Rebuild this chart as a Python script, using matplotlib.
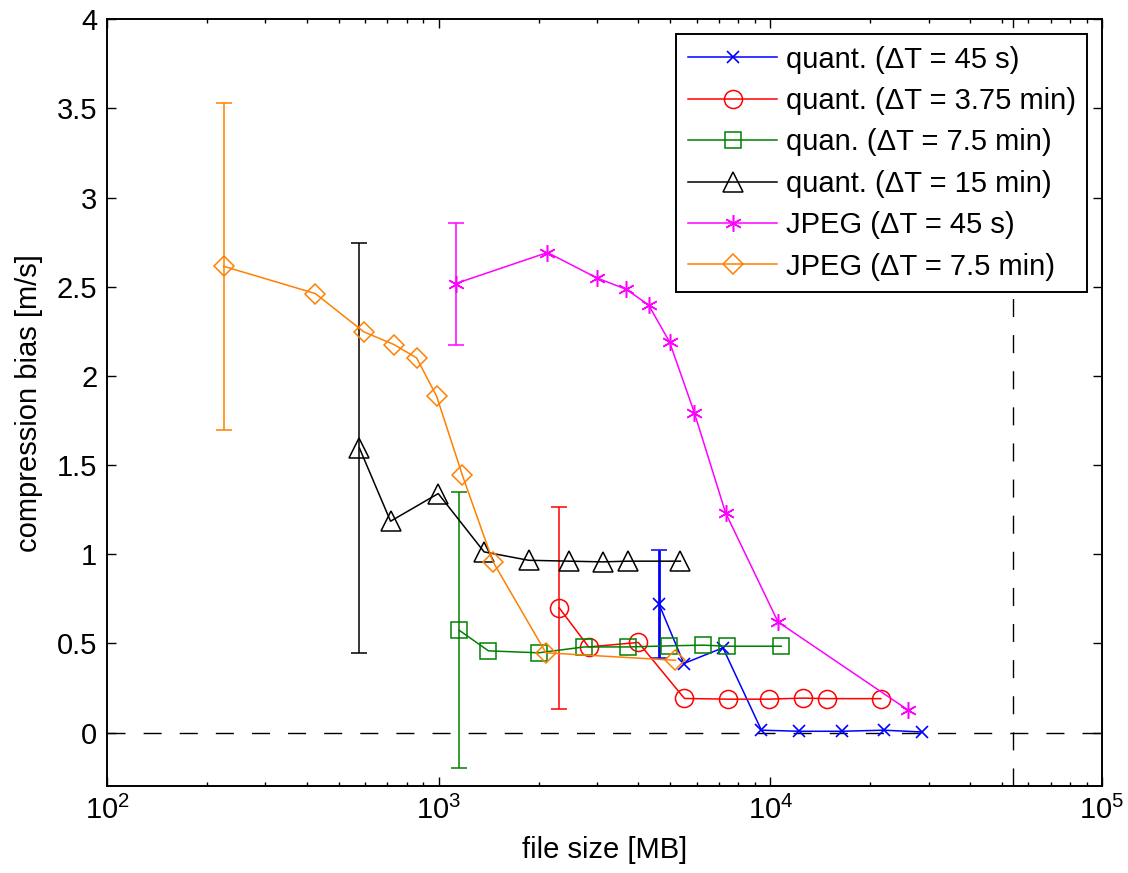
import matplotlib
matplotlib.use("Agg")
import matplotlib.pyplot as plt
import numpy as np

plt.rcParams['font.family'] = ['Liberation Sans', 'DejaVu Sans']
plt.rcParams['mathtext.fontset'] = 'custom'
plt.rcParams['mathtext.rm'] = 'Liberation Sans'
plt.rcParams['mathtext.it'] = 'Liberation Sans'

# ---- data ----
labels = ["quant. (\u0394T = 45 s)", "quant. (\u0394T = 3.75 min)", "quan. (\u0394T = 7.5 min)",
          "quant. (\u0394T = 15 min)", "JPEG (\u0394T = 45 s)", "JPEG (\u0394T = 7.5 min)"]

q45_x = [4610, 5485, 7197, 9400, 12180, 16390, 21980, 28710]
q45_y = [0.723, 0.387, 0.475, 0.013, 0.007, 0.007, 0.013, 0.003]
q45_err = [0.418, 1.026]

q375_x = [2309, 2833, 4000, 5508, 7448, 9885, 12560, 14830, 21530]
q375_y = [0.699, 0.48, 0.505, 0.191, 0.187, 0.187, 0.193, 0.19, 0.19]
q375_err = [0.131, 1.265]

q75_x = [1152, 1413, 2000, 2748, 3731, 4945, 6266, 7415, 10790]
q75_y = [0.574, 0.458, 0.447, 0.48, 0.48, 0.486, 0.49, 0.484, 0.484]
q75_err = [-0.198, 1.349]

q15_x = [577, 716, 997, 1371, 1866, 2466, 3123, 3716, 5356]
q15_y = [1.595, 1.185, 1.34, 1.013, 0.966, 0.961, 0.957, 0.961, 0.961]
q15_err = [0.445, 2.746]

j45_x = [1126, 2128, 2995, 3683, 4298, 4966, 5902, 7330, 10550, 26060]
j45_y = [2.518, 2.692, 2.55, 2.485, 2.397, 2.191, 1.793, 1.232, 0.620, 0.125]
j45_err = [2.172, 2.855]

j75_x = [224.6, 424.6, 595, 733, 858, 986, 1179, 1459, 2105, 5176]
j75_y = [2.615, 2.462, 2.247, 2.176, 2.101, 1.886, 1.443, 0.957, 0.447, 0.405]
j75_err = [1.697, 3.528]

vline_x = 5.4e4

series = [
    (q45_x, q45_y, q45_err, '#0000ff', 'x', 9, labels[0]),
    (q375_x, q375_y, q375_err, '#ff0000', 'o', 13, labels[1]),
    (q75_x, q75_y, q75_err, '#008000', 's', 11, labels[2]),
    (q15_x, q15_y, q15_err, '#000000', '^', 14, labels[3]),
    (j45_x, j45_y, j45_err, '#ff00ff', '*', 13, labels[4]),
    (j75_x, j75_y, j75_err, '#ff8000', 'D', 10, labels[5]),
]

fig = plt.figure(figsize=(11.28, 8.73), dpi=100)
ax = fig.add_axes([107/1128, 1-786/873, (1102-107)/1128, (786-19.3)/873])

ax.axhline(0, color='k', lw=1.0, dashes=(13, 13), zorder=1)
ax.axvline(vline_x, color='k', lw=1.0, dashes=(13, 13), zorder=1)

for xs, ys, err, c, m, ms, lab in series:
    lw_eb = 2.0 if c == '#0000ff' else 1.1
    ax.errorbar([xs[0]], [ys[0]], yerr=[[ys[0]-err[0]], [err[1]-ys[0]]], fmt='none',
                ecolor=c, elinewidth=lw_eb, capsize=6, capthick=1.1, zorder=2)
    mkw = dict(marker=m, markersize=ms, markerfacecolor='none', markeredgecolor=c,
               markeredgewidth=1.1)
    if m == '*':
        mkw['marker'] = (6, 2, 0)
        mkw['markersize'] = 12
    if m == 'x':
        mkw['markeredgewidth'] = 1.2
    ax.plot(xs, ys, color=c, lw=1.1, label=lab, zorder=3, **mkw)

ax.set_xscale('log')
ax.set_xlim(100, 1e5)
ax.set_ylim(-0.3, 4)
ax.set_yticks(np.arange(0, 4.01, 0.5))
ax.set_yticklabels(['0', '0.5', '1', '1.5', '2', '2.5', '3', '3.5', '4'])

fs = 21
ax.tick_params(which='both', direction='in', top=True, right=True, labelsize=fs, width=1.0)
ax.tick_params(which='major', length=6.5, pad=7)
ax.tick_params(which='minor', length=3)
for s in ax.spines.values():
    s.set_linewidth(1.4)

ax.set_xlabel('file size [MB]', fontsize=fs, labelpad=8)
ax.set_ylabel('compression bias [m/s]', fontsize=fs, labelpad=10)

leg = ax.legend(loc='upper right', fontsize=fs, handlelength=3.05, borderaxespad=0.5,
                labelspacing=0.46, handletextpad=0.3, borderpad=0.4, fancybox=False,
                framealpha=1, edgecolor='k')
leg.get_frame().set_linewidth(1.4)

fig.savefig('out.png', dpi=100)
